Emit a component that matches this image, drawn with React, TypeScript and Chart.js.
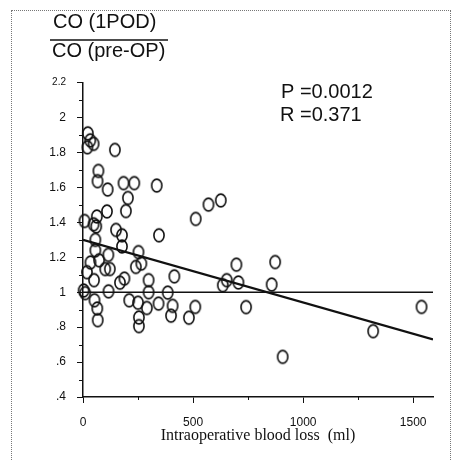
import React, { useEffect, useRef } from "react";
import { Chart, registerables } from "chart.js";

Chart.register(...registerables);

// ---- data ----
const bloodLoss = [
  22, 33, 48, 20, 145, 70, 66, 112, 184, 233, 335, 204, 195, 109, 7, 63, 48, 60,
  150, 177, 345, 512, 570, 626, 56, 177, 56, 252, 115, 34, 73, 101, 122, 240, 265,
  18, 188, 168, 50, 298, 415, 3, 10, 116, 298, 385, 52, 65, 210, 250, 290, 343,
  407, 400, 510, 481, 67, 254, 254, 697, 873, 635, 653, 706, 857, 741, 1538, 1318, 907,
];
const coRatio = [
  1.91, 1.87, 1.85, 1.83, 1.815, 1.695, 1.636, 1.588, 1.625, 1.625, 1.611, 1.54, 1.465,
  1.463, 1.408, 1.434, 1.389, 1.377, 1.357, 1.326, 1.326, 1.42, 1.502, 1.526, 1.3, 1.262,
  1.24, 1.23, 1.214, 1.17, 1.183, 1.133, 1.133, 1.145, 1.164, 1.115, 1.078, 1.055, 1.069,
  1.069, 1.091, 1.01, 0.995, 1.005, 1.0, 0.998, 0.954, 0.907, 0.954, 0.94, 0.91, 0.935,
  0.922, 0.866, 0.916, 0.854, 0.84, 0.855, 0.806, 1.158, 1.173, 1.04, 1.069, 1.056, 1.044,
  0.915, 0.916, 0.777, 0.63,
];
const regressionX = [0, 1590];
const regressionY = [1.3, 0.73];
const refLineX = [0, 1590];
const refLineY = [1, 1];

const xTickValues = [0, 500, 1000, 1500];
const xTickLabels = ["0", "500", "1000", "1500"];
const xMinorTickValues = [250, 750, 1250];
const yTickValues = [0.4, 0.6, 0.8, 1.0, 1.2, 1.4, 1.6, 1.8, 2.0, 2.2];
const yTickLabels = [".4", ".6", ".8", "1", "1.2", "1.4", "1.6", "1.8", "2", "2.2"];
const yMinorTickValues = [0.5, 0.7, 0.9, 1.1, 1.3, 1.5, 1.7, 1.9, 2.1];

const yTitleTop = "CO (1POD)";
const yTitleBottom = "CO (pre-OP)";
const statLines = ["P =0.0012", "R =0.371"];
const xTitle = "Intraoperative blood loss  (ml)";

const SANS = "'Liberation Sans', Arial, sans-serif";
const SERIF = "'Liberation Serif', 'Times New Roman', serif";
const INK = "#111";

function makeEllipseMarker(): HTMLCanvasElement {
  const c = document.createElement("canvas");
  c.width = 14;
  c.height = 17;
  const g = c.getContext("2d")!;
  g.strokeStyle = INK;
  g.lineWidth = 1.6;
  g.beginPath();
  g.ellipse(7, 8.5, 5.1, 6.4, 0, 0, Math.PI * 2);
  g.stroke();
  return c;
}

const decorPlugin = {
  id: "decor",
  afterDraw(chart: any) {
    const { ctx } = chart;
    const x = chart.scales.x;
    const y = chart.scales.y;
    ctx.save();
    ctx.strokeStyle = INK;
    ctx.lineWidth = 1;
    xMinorTickValues.forEach((v) => {
      const px = Math.round(x.getPixelForValue(v)) + 0.5;
      ctx.beginPath();
      ctx.moveTo(px, x.top);
      ctx.lineTo(px, x.top + 3);
      ctx.stroke();
    });
    yMinorTickValues.forEach((v) => {
      const py = Math.round(y.getPixelForValue(v)) + 0.5;
      ctx.beginPath();
      ctx.moveTo(y.right - 4, py);
      ctx.lineTo(y.right, py);
      ctx.stroke();
    });

    ctx.fillStyle = INK;
    ctx.font = `20px ${SANS}`;
    ctx.textAlign = "left";
    ctx.textBaseline = "alphabetic";
    ctx.fillText(yTitleTop, 53, 28);
    ctx.fillText(yTitleBottom, 52, 57);
    ctx.lineWidth = 1.5;
    ctx.beginPath();
    ctx.moveTo(50, 40);
    ctx.lineTo(168, 40);
    ctx.stroke();

    ctx.fillText(statLines[0], 281, 98);
    ctx.fillText(statLines[1], 280, 121);
    ctx.restore();
  },
};

export default function App() {
  const ref = useRef<HTMLCanvasElement | null>(null);

  useEffect(() => {
    if (!ref.current) return;
    const marker = makeEllipseMarker();
    const points = bloodLoss.map((v, i) => ({ x: v, y: coRatio[i] }));
    const chart = new Chart(ref.current, {
      type: "scatter",
      data: {
        datasets: [
          {
            type: "line",
            data: refLineX.map((v, i) => ({ x: v, y: refLineY[i] })),
            borderColor: INK,
            borderWidth: 1.3,
            pointRadius: 0,
            fill: false,
          } as any,
          {
            type: "line",
            data: regressionX.map((v, i) => ({ x: v, y: regressionY[i] })),
            borderColor: INK,
            borderWidth: 2.3,
            pointRadius: 0,
            fill: false,
          } as any,
          {
            type: "scatter",
            data: points,
            pointStyle: marker,
            pointRadius: 6,
            backgroundColor: "rgba(0,0,0,0)",
            borderColor: INK,
            clip: false,
          } as any,
        ],
      },
      options: {
        responsive: false,
        animation: false,
        events: [],
        layout: { padding: { top: 82.7, right: 27, left: 0, bottom: 16 } },
        plugins: { legend: { display: false }, tooltip: { enabled: false } },
        scales: {
          x: {
            type: "linear",
            min: 0,
            max: 1590,
            afterBuildTicks: (s: any) => {
              s.ticks = xTickValues.map((v) => ({ value: v }));
            },
            afterFit: (s: any) => {
              s.height = 461 - 16 - 397;
            },
            grid: {
              drawOnChartArea: false,
              drawTicks: true,
              tickLength: 6,
              color: INK,
              tickWidth: 1,
            },
            border: { display: true, color: INK, width: 1.5 },
            ticks: {
              padding: 12,
              color: INK,
              font: { family: SANS, size: 12 },
              maxRotation: 0,
              callback: (v: any) => {
                const i = xTickValues.indexOf(Number(v));
                return i >= 0 ? xTickLabels[i] : "";
              },
            },
            title: {
              display: true,
              text: xTitle,
              color: INK,
              font: { family: SERIF, size: 16 },
              padding: { top: 0, bottom: 0 },
            },
          },
          y: {
            type: "linear",
            min: 0.4,
            max: 2.2,
            afterBuildTicks: (s: any) => {
              s.ticks = yTickValues.map((v) => ({ value: v }));
            },
            afterFit: (s: any) => {
              s.width = 83;
            },
            grid: {
              drawOnChartArea: false,
              drawTicks: true,
              tickLength: 6,
              color: INK,
              tickWidth: 1,
            },
            border: { display: true, color: INK, width: 1.5 },
            ticks: {
              padding: 11,
              color: INK,
              font: (c: any) => ({
                family: SANS,
                size: c.tick && Math.abs(c.tick.value - 2.2) < 1e-6 ? 10 : 12,
              }),
              callback: (v: any) => {
                const i = yTickValues.findIndex((t) => Math.abs(t - Number(v)) < 1e-6);
                return i >= 0 ? yTickLabels[i] : "";
              },
            },
          },
        },
      },
      plugins: [decorPlugin],
    });
    return () => chart.destroy();
  }, []);

  return (
    <div style={{ position: "absolute", left: 0, top: 0, width: 460, height: 461, background: "#fff" }}>
      <canvas ref={ref} width={460} height={461} style={{ display: "block" }} />
      <div
        style={{
          position: "absolute",
          left: 11,
          top: 10,
          width: 440,
          height: 470,
          borderLeft: "1px dotted #777",
          borderTop: "1px dotted #777",
          borderRight: "1px dotted #777",
          pointerEvents: "none",
          boxSizing: "border-box",
        }}
      />
    </div>
  );
}
